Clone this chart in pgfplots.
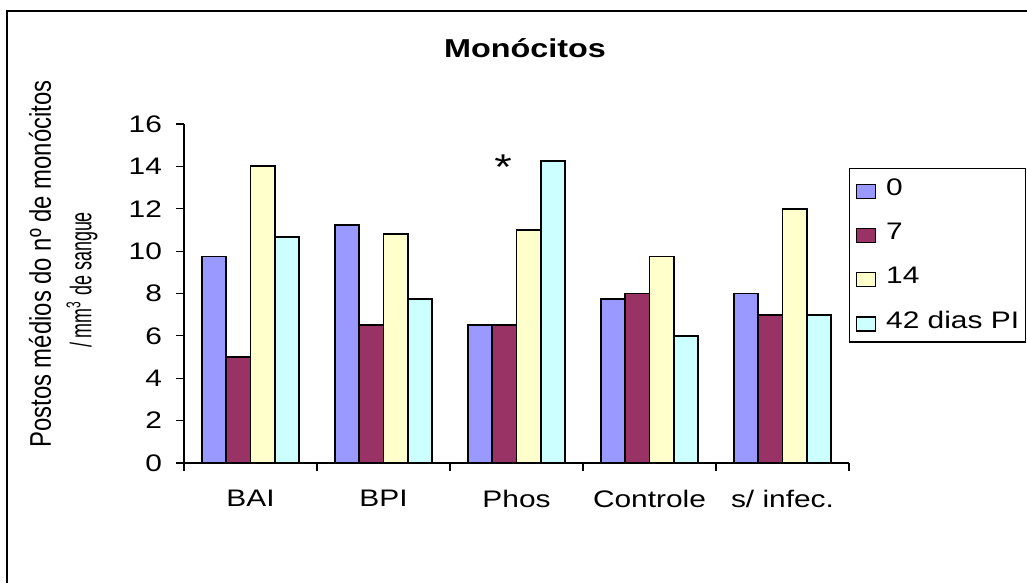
\documentclass[border=0pt]{standalone}
\usepackage{fontspec}
\setmainfont{Liberation Sans}[FakeStretch=1.25]
\newfontfamily\plainfont{Liberation Sans}
\usepackage{graphicx}
\usepackage{pgfplots}
\usepackage{pgfplotstable}
\pgfplotsset{compat=1.18}

\definecolor{cZero}{HTML}{9999FF}
\definecolor{cSeven}{HTML}{993366}
\definecolor{cFourteen}{HTML}{FFFFCC}
\definecolor{cFortyTwo}{HTML}{CCFFFF}

% postos medios por grupo (0, 7, 14 e 42 dias PI)
\pgfplotstableread{
x  d0     d7    d14    d42
0  9.75   5.0   14.0   10.67
1  11.25  6.5   10.8   7.75
2  6.5    6.5   11.0   14.25
3  7.75   8.0   9.75   6.0
4  8.0    7.0   12.0   7.0
}\monodata

\pgfplotsset{
  sqlegend/.style={legend image code/.code={
    \draw[##1, draw=black, line width=0.8bp] (0bp,-5bp) rectangle (9.5bp,2bp);}},
}

\begin{document}
\begin{tikzpicture}[font=\fontsize{12}{14}\selectfont]
\begin{scope}[x=1bp,y=1bp]
\useasboundingbox (0,0) rectangle (513.5,291.5);
\draw[line width=1bp] (3.5,0) -- (3.5,286) -- (513.5,286);
\node[font=\bfseries\fontsize{13}{15}\selectfont, anchor=base] at (262.5,263) {Monócitos};
\node[rotate=90, inner sep=0pt] at (20,159.5)
  {\plainfont\fontsize{12}{14}\selectfont\scalebox{1}[1.25]{Postos médios do nº de monócitos}};
\node[rotate=90, inner sep=0pt] at (41,151.5)
  {\plainfont\fontsize{12}{14}\selectfont\scalebox{0.75}[1.25]{/ mm\textsuperscript{3} de sangue}};
\end{scope}
\begin{axis}[
  at={(92bp,60bp)}, anchor=south west, scale only axis,
  width=332.5bp, height=169.5bp,
  ymin=0, ymax=16, ytick={0,2,...,16},
  xmin=-0.5, xmax=4.5,
  xtick={-0.5,0.5,...,4.5}, xticklabels={,,,,,},
  extra x ticks={0,1,2,3,4},
  extra x tick labels={BAI,BPI,Phos,Controle,s/ infec.},
  extra x tick style={tick style={draw=none}},
  axis x line=bottom, axis y line=left,
  axis line style={-, line width=0.6bp},
  tick align=outside, major tick length=4bp,
  tick style={line width=0.6bp, black},
  /pgf/number format/assume math mode=true,
  every tick label/.append style={font=\fontsize{12}{14}\selectfont},
  yticklabel style={xshift=-3.5bp},
  xticklabel style={yshift=-6bp},
  ybar=0pt, bar width=12.1bp,
  legend style={at={(1,1)}, anchor=north west, yshift=-22bp,
    draw=black, line width=0.6bp, inner xsep=3bp, inner ysep=5bp,
    row sep=11.8bp, column sep=5bp,
    nodes={inner sep=0pt},
    font=\fontsize{12}{14}\selectfont},
  legend cell align=left,
]
\addplot[fill=cZero, draw=black, line width=0.9bp, sqlegend] table[x=x, y=d0] {\monodata};
\addlegendentry{0}
\addplot[fill=cSeven, draw=black, line width=0.9bp, sqlegend] table[x=x, y=d7] {\monodata};
\addlegendentry{7}
\addplot[fill=cFourteen, draw=black, line width=0.9bp, sqlegend] table[x=x, y=d14] {\monodata};
\addlegendentry{14}
\addplot[fill=cFortyTwo, draw=black, line width=0.9bp, sqlegend] table[x=x, y=d42] {\monodata};
\addlegendentry{42 dias PI}
\node[font=\fontsize{18}{20}\selectfont, anchor=base] at (axis cs:1.9,13.4) {*};
\end{axis}
\end{tikzpicture}
\end{document}
